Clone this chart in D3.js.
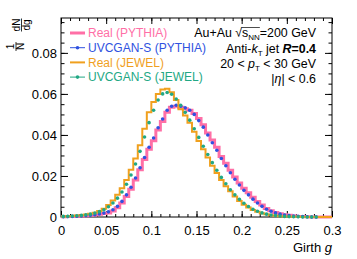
<!DOCTYPE html>
<html>
<head>
<meta charset="utf-8">
<script src="https://cdn.jsdelivr.net/npm/d3@7"></script>
<style>
  body { margin: 0; background: #fff; }
  svg { display: block; font-family: "Liberation Sans", Arial, Helvetica, sans-serif; }
</style>
</head>
<body>
<div id="chart"></div>
<script>
// bin edges: 60 bins of width 0.005 from 0 to 0.3
const binWidth = 0.005;

// Real (PYTHIA) - normalised histogram
const realPythia = [
  0.0001, 0.0002, 0.0003, 0.0004, 0.0005, 0.0006, 0.0008, 0.0010, 0.0013, 0.0017,
  0.0020, 0.0029, 0.0045, 0.0068, 0.0100, 0.0135, 0.0180, 0.0230, 0.0280, 0.0330,
  0.0372, 0.0424, 0.0465, 0.0510, 0.0535, 0.0540, 0.0535, 0.0528, 0.0520, 0.0505,
  0.0480, 0.0450, 0.0410, 0.0375, 0.0340, 0.0295, 0.0262, 0.0228, 0.0195, 0.0166,
  0.0140, 0.0118, 0.0096, 0.0076, 0.0058, 0.0042, 0.0030, 0.0022, 0.0016, 0.0011,
  0.0008, 0.0005, 0.0003, 0.0002, 0.0001, 0, 0, 0, 0, 0
];
// UVCGAN-S (PYTHIA) - points
const ganPythia = [
  0.0001, 0.0002, 0.0003, 0.0004, 0.0005, 0.0007, 0.0009, 0.0011, 0.0015, 0.0019,
  0.0025, 0.0035, 0.0052, 0.0076, 0.0108, 0.0145, 0.0190, 0.0240, 0.0290, 0.0340,
  0.0385, 0.0435, 0.0478, 0.0520, 0.0540, 0.0545, 0.0540, 0.0532, 0.0520, 0.0500,
  0.0470, 0.0438, 0.0400, 0.0362, 0.0325, 0.0285, 0.0250, 0.0216, 0.0184, 0.0156,
  0.0130, 0.0108, 0.0087, 0.0068, 0.0052, 0.0038, 0.0028, 0.0020, 0.0014, 0.0010,
  0.0007, 0.0005, 0.0003, 0.0002, 0.0001, 0, 0
];
// Real (JEWEL)
const realJewel = [
  0.0003, 0.0004, 0.0005, 0.0007, 0.0009, 0.0012, 0.0016, 0.0021, 0.0029, 0.0040,
  0.0058, 0.0080, 0.0108, 0.0140, 0.0180, 0.0230, 0.0285, 0.0350, 0.0430, 0.0510,
  0.0560, 0.0600, 0.0622, 0.0625, 0.0608, 0.0570, 0.0525, 0.0495, 0.0460, 0.0415,
  0.0370, 0.0330, 0.0290, 0.0250, 0.0215, 0.0180, 0.0150, 0.0125, 0.0100, 0.0078,
  0.0060, 0.0046, 0.0034, 0.0025, 0.0018, 0.0013, 0.0009, 0.0006, 0.0004, 0.0003,
  0.0002, 0.0001, 0.0001, 0, 0, 0, 0, 0, 0, 0
];
// UVCGAN-S (JEWEL)
const ganJewel = [
  0.0003, 0.0004, 0.0005, 0.0006, 0.0008, 0.0011, 0.0014, 0.0019, 0.0026, 0.0035,
  0.0050, 0.0068, 0.0092, 0.0122, 0.0160, 0.0205, 0.0258, 0.0320, 0.0390, 0.0460,
  0.0520, 0.0570, 0.0600, 0.0607, 0.0598, 0.0575, 0.0545, 0.0510, 0.0472, 0.0430,
  0.0388, 0.0345, 0.0305, 0.0265, 0.0228, 0.0193, 0.0162, 0.0133, 0.0108, 0.0086,
  0.0067, 0.0051, 0.0038, 0.0028, 0.0020, 0.0014, 0.0010, 0.0007, 0.0005, 0.0003,
  0.0002, 0.0001, 0.0001, 0, 0, 0, 0
];

const xTicks = [0, 0.05, 0.1, 0.15, 0.2, 0.25, 0.3];
const yTicks = [0, 0.02, 0.04, 0.06, 0.08];
const legendLabels = ["Real (PYTHIA)", "UVCGAN-S (PYTHIA)", "Real (JEWEL)", "UVCGAN-S (JEWEL)"];

const colPink = "#ff6fa6", colBlue = "#2f52e0", colOrange = "#f0a01e", colGreen = "#22a884";

const width = 357, height = 259;
const marginLeft = 61, marginRight = 25, marginTop = 18, marginBottom = 42;

const x = d3.scaleLinear().domain([0, 0.3]).range([marginLeft, width - marginRight]);
const y = d3.scaleLinear().domain([0, 0.097]).range([height - marginBottom, marginTop]);

const svg = d3.select("#chart").append("svg")
    .attr("width", width)
    .attr("height", height);

const x0 = x.range()[0], x1 = x.range()[1], y0 = y.range()[0], y1 = y.range()[1];

// minor ticks
const xMinor = d3.range(0, 31).map(i => i * 0.01);
const yMinor = d3.range(0, 20).map(i => i * 0.005);

// bottom axis
svg.append("g")
    .attr("transform", `translate(0,${y0})`)
    .style("font-size", "13px")
    .call(d3.axisBottom(x).tickValues(xTicks).tickFormat(d3.format("")).tickSize(-6).tickPadding(9))
    .call(g => g.select(".domain").remove())
    .call(g => g.selectAll("text").attr("fill", "#000").attr("font-family", "Liberation Sans, Arial"));
svg.append("g")
    .attr("transform", `translate(0,${y0})`)
    .call(d3.axisBottom(x).tickValues(xMinor).tickFormat("").tickSize(-3))
    .call(g => g.select(".domain").remove());
// top axis (ticks only)
svg.append("g")
    .attr("transform", `translate(0,${y1})`)
    .call(d3.axisTop(x).tickValues(xTicks).tickFormat("").tickSize(-6))
    .call(g => g.select(".domain").remove());
svg.append("g")
    .attr("transform", `translate(0,${y1})`)
    .call(d3.axisTop(x).tickValues(xMinor).tickFormat("").tickSize(-3))
    .call(g => g.select(".domain").remove());

// left axis
svg.append("g")
    .attr("transform", `translate(${x0},0)`)
    .style("font-size", "13px")
    .call(d3.axisLeft(y).tickValues(yTicks).tickFormat(d => d === 0 ? "0" : d3.format(".2f")(d)).tickSize(-7).tickPadding(4))
    .call(g => g.select(".domain").remove())
    .call(g => g.selectAll("text").attr("fill", "#000").attr("font-family", "Liberation Sans, Arial"));
svg.append("g")
    .attr("transform", `translate(${x0},0)`)
    .call(d3.axisLeft(y).tickValues(yMinor).tickFormat("").tickSize(-3.5))
    .call(g => g.select(".domain").remove());
// right axis
svg.append("g")
    .attr("transform", `translate(${x1},0)`)
    .call(d3.axisRight(y).tickValues(yTicks).tickFormat("").tickSize(-7))
    .call(g => g.select(".domain").remove());
svg.append("g")
    .attr("transform", `translate(${x1},0)`)
    .call(d3.axisRight(y).tickValues(yMinor).tickFormat("").tickSize(-3.5))
    .call(g => g.select(".domain").remove());

svg.selectAll(".tick line").attr("stroke", "#000").attr("stroke-width", 1);

// frame
svg.append("rect")
    .attr("x", x0).attr("y", y1)
    .attr("width", x1 - x0).attr("height", y0 - y1)
    .attr("fill", "none").attr("stroke", "#000").attr("stroke-width", 1);

// histograms as steps
const stepLine = d3.line()
    .x(d => x(d[0]))
    .y(d => y(d[1]))
    .curve(d3.curveStepAfter);
function histPoints(vals) {
  const pts = vals.map((v, i) => [i * binWidth, v]);
  pts.push([vals.length * binWidth, vals[vals.length - 1]]);
  return pts;
}
function drawHist(vals, color, w) {
  svg.append("path")
      .datum(histPoints(vals))
      .attr("fill", "none")
      .attr("stroke", color)
      .attr("stroke-width", w)
      .attr("d", stepLine);
}
function drawDots(vals, color) {
  svg.append("g")
    .selectAll("circle")
    .data(vals)
    .join("circle")
      .attr("cx", (d, i) => x((i + 0.5) * binWidth))
      .attr("cy", d => y(d))
      .attr("r", 1.8)
      .attr("fill", color);
}

drawHist(realPythia, colPink, 3);
drawDots(ganPythia, colBlue);
drawHist(realJewel, colOrange, 2);
drawDots(ganJewel, colGreen);

// legend
const legend = svg.append("g").style("font-size", "12px");
const legendColors = [colPink, colBlue, colOrange, colGreen];
legendLabels.forEach((lab, i) => {
  const ly = 33 + i * 14.7;
  legend.append("line")
      .attr("x1", 70).attr("x2", 85)
      .attr("y1", ly).attr("y2", ly)
      .attr("stroke", legendColors[i])
      .attr("stroke-width", i % 2 === 0 ? (i === 0 ? 3 : 2) : 1);
  if (i % 2 === 1) {
    legend.append("circle").attr("cx", 77.5).attr("cy", ly).attr("r", 1.8).attr("fill", legendColors[i]);
  }
  legend.append("text")
      .attr("x", 88).attr("y", ly + 4.3)
      .attr("fill", legendColors[i])
      .text(lab);
});

// annotation
const ann = svg.append("g").style("font-size", "12.4px").attr("text-anchor", "end").attr("fill", "#000");
const t1 = ann.append("text").attr("x", 316).attr("y", 37);
t1.append("tspan").text("Au+Au ");
t1.append("tspan").text("\u221A");
t1.append("tspan").text("s");
t1.append("tspan").text("NN").attr("font-size", "8px").attr("dy", 3);
t1.append("tspan").text("=200 GeV").attr("dy", -3);
// overline of the square root, from the glyph extents
{
  const node = t1.node();
  const eRoot = node.getExtentOfChar(6);
  const eEnd = node.getExtentOfChar(9);
  ann.append("line")
      .attr("x1", eRoot.x + eRoot.width - 0.5).attr("x2", eEnd.x + eEnd.width)
      .attr("y1", eRoot.y + 1.5).attr("y2", eRoot.y + 1.5)
      .attr("stroke", "#000").attr("stroke-width", 0.7);
}

const t2 = ann.append("text").attr("x", 316).attr("y", 53);
t2.append("tspan").text("Anti-");
t2.append("tspan").text("k").attr("font-style", "italic");
t2.append("tspan").text("T").attr("font-size", "8px").attr("dy", 3);
t2.append("tspan").text(" jet ").attr("dy", -3);
t2.append("tspan").text("R").attr("font-style", "italic").attr("font-weight", "bold");
t2.append("tspan").text("=0.4").attr("font-weight", "bold");

const t3 = ann.append("text").attr("x", 316).attr("y", 68);
t3.append("tspan").text("20 < ");
t3.append("tspan").text("p").attr("font-style", "italic");
t3.append("tspan").text("T").attr("font-size", "8px").attr("dy", 3);
t3.append("tspan").text(" < 30 GeV").attr("dy", -3);

const t4 = ann.append("text").attr("x", 316).attr("y", 83);
t4.append("tspan").text("|");
t4.append("tspan").text("\u03B7").attr("font-style", "italic");
t4.append("tspan").text("| < 0.6");

// x title
const xt = svg.append("text")
    .attr("x", 332).attr("y", 252)
    .attr("text-anchor", "end")
    .style("font-size", "13px");
xt.append("tspan").text("Girth ");
xt.append("tspan").text("g").attr("font-style", "italic");

// y title: 1/N dN/dg, rotated
const yt = svg.append("g").style("font-size", "10px").attr("text-anchor", "middle");
function frac(cx, cy, num, den, halfLen) {
  const g = yt.append("g").attr("transform", `translate(${cx},${cy}) rotate(-90)`);
  g.append("text").attr("x", 0).attr("y", -2).text(num);
  g.append("text").attr("x", 0).attr("y", 8).text(den);
  g.append("line").attr("x1", -halfLen).attr("x2", halfLen).attr("y1", 0).attr("y2", 0)
      .attr("stroke", "#000").attr("stroke-width", 0.8);
}
frac(21.5, 25, "dN", "dg", 6.5);
frac(16, 46.5, "1", "N", 4.5);
</script>
</body>
</html>
